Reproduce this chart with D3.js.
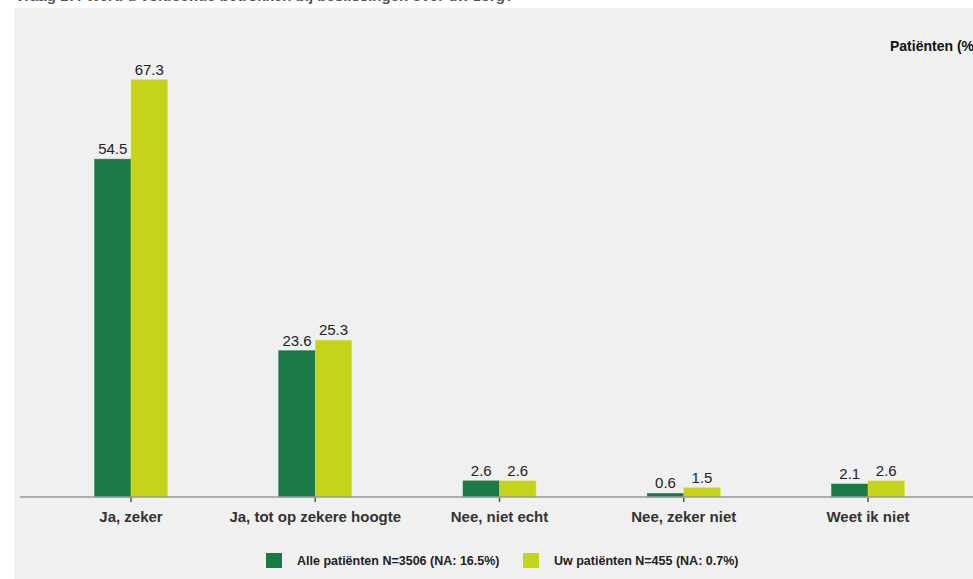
<!DOCTYPE html>
<html><head><meta charset="utf-8">
<script src="https://cdn.jsdelivr.net/npm/d3@7"></script>
<style>html,body{margin:0;padding:0;background:#fff;overflow:hidden}svg{display:block}</style>
</head><body>
<svg id="c" width="973" height="579"></svg>
<script>
const categories = ["Ja, zeker", "Ja, tot op zekere hoogte", "Nee, niet echt", "Nee, zeker niet", "Weet ik niet"];
const seriesNames = ["Alle patiënten N=3506 (NA: 16.5%)", "Uw patiënten N=455 (NA: 0.7%)"];
const allValues = [54.5, 23.6, 2.6, 0.6, 2.1];
const uwValues = [67.3, 25.3, 2.6, 1.5, 2.6];
const colors = ["#1b7847", "#c5d41a"];
const titleText = "Vraag 17: Werd u voldoende betrokken bij beslissingen over uw zorg?";
const axisTitle = "Patiënten (%)";

const svg = d3.select("#c");
const font = "'Liberation Sans', Arial, sans-serif";

svg.append("rect").attr("x", 14).attr("y", 8).attr("width", 973).attr("height", 579).attr("fill", "#f0f0f0");
svg.append("text").attr("x", 15).attr("y", 1).attr("font-family", font).attr("font-size", 15)
  .attr("font-weight", "bold").attr("fill", "#555").text(titleText);

const baseY = 497;
const step = 184.25, firstCenter = 131;
const x = d3.scaleBand().domain(categories)
  .range([firstCenter - step / 2, firstCenter - step / 2 + step * categories.length])
  .paddingInner(0.6).paddingOuter(0.3);
const y = d3.scaleLinear().domain([0, 70]).range([baseY, baseY - 6.2 * 70]);

const data = categories.map((c, i) => ({ c, vals: [allValues[i], uwValues[i]] }));
const g = svg.append("g");
data.forEach(d => {
  const cx = x(d.c) + x.bandwidth() / 2;
  const bw = 36.5;
  d.vals.forEach((v, j) => {
    const bx = cx - bw + j * bw;
    g.append("rect").attr("x", bx).attr("y", y(v)).attr("width", bw).attr("height", baseY - y(v))
      .attr("fill", colors[j]).attr("stroke", d3.color(colors[j]).brighter(0.3)).attr("stroke-width", 0.5);
    g.append("text").attr("x", bx + bw / 2).attr("y", y(v) - 5).attr("text-anchor", "middle")
      .attr("font-family", font).attr("font-size", 15).attr("fill", "#222").text(v.toFixed(1));
  });
});

// axis
const axis = d3.axisBottom(x).tickSize(5).tickPadding(9).tickSizeOuter(0);
const ag = svg.append("g").attr("transform", `translate(0,${baseY})`).call(axis);
ag.select(".domain").remove();
ag.selectAll(".tick line").attr("stroke", "#555").attr("stroke-width", 1.5);
ag.selectAll(".tick text").attr("font-family", font).attr("font-size", 15).attr("font-weight", "bold").attr("fill", "#333");
svg.append("line").attr("x1", 20).attr("x2", 973).attr("y1", baseY).attr("y2", baseY).attr("stroke", "#999").attr("stroke-width", 1.5);

svg.append("text").attr("x", 890).attr("y", 51).attr("font-family", font).attr("font-size", 14)
  .attr("font-weight", "bold").attr("fill", "#111").text(axisTitle);

// legend
const legX = [266, 523];
seriesNames.forEach((s, i) => {
  svg.append("rect").attr("x", legX[i]).attr("y", 553).attr("width", 16).attr("height", 15).attr("fill", colors[i]);
  svg.append("text").attr("x", legX[i] + 31).attr("y", 565).attr("font-family", font).attr("font-size", 12.5)
    .attr("font-weight", "bold").attr("fill", "#222").text(s);
});
</script>
</body></html>
